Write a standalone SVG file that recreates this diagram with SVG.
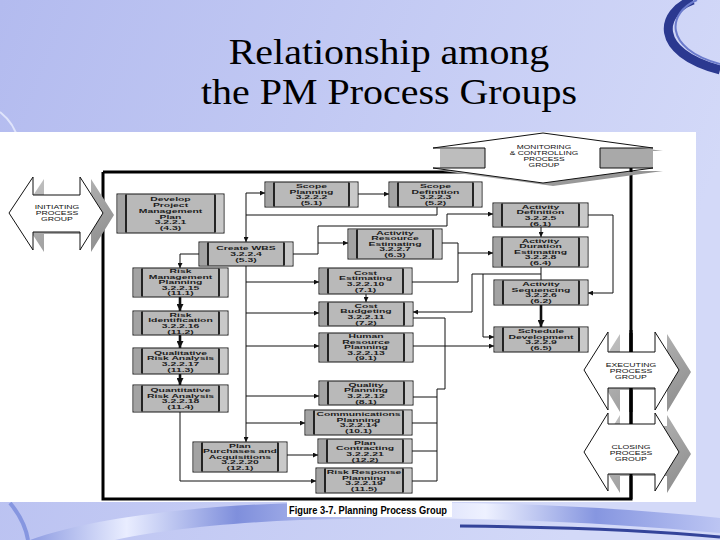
<svg xmlns="http://www.w3.org/2000/svg" width="720" height="540" viewBox="0 0 720 540">
<defs>
<linearGradient id="bg" x1="0" y1="0" x2="1" y2="0.3"><stop offset="0" stop-color="#b3bbef"/><stop offset="1" stop-color="#d3d9f8"/></linearGradient>
<linearGradient id="rib" x1="0" y1="0" x2="1" y2="0"><stop offset="0" stop-color="#8e9ce2"/><stop offset="0.14" stop-color="#e9edff"/><stop offset="0.3" stop-color="#7f8fdc"/><stop offset="0.5" stop-color="#c9d0f6"/><stop offset="0.66" stop-color="#eef1ff"/><stop offset="0.82" stop-color="#8696e0"/><stop offset="1" stop-color="#bcc5f3"/></linearGradient>
<linearGradient id="sh" x1="0" y1="0" x2="1" y2="1"><stop offset="0" stop-color="#c6c6c6"/><stop offset="1" stop-color="#8a8a8a"/></linearGradient>
<marker id="a" viewBox="0 0 6 6" refX="6" refY="3" markerWidth="5" markerHeight="5" orient="auto" markerUnits="userSpaceOnUse"><path d="M0,0L6,3L0,6z" fill="#111"/></marker>
<marker id="ab" viewBox="0 0 6 6" refX="6" refY="3" markerWidth="7" markerHeight="7" orient="auto" markerUnits="userSpaceOnUse"><path d="M0,0L6,3L0,6z" fill="#111"/></marker>
</defs>
<style>
.box{fill:#b9b9b9;stroke:#151515;stroke-width:1}
.bl{fill:#a3a3a3}
.br{fill:#c9c9c9}
.st{stroke:#151515;stroke-width:1.8;fill:none}
.nt{font-family:"Liberation Sans",Arial,Helvetica,sans-serif;font-size:5px;font-weight:700;fill:#1c1c1c;text-anchor:middle}
.pg{font-family:"Liberation Sans",Arial,sans-serif;font-size:5px;fill:#111;text-anchor:middle}
.pgs{fill:url(#sh)}
.pgw{fill:#fff;stroke:#111;stroke-width:1}
.c{fill:none;stroke:#111;stroke-width:1}
.ca{marker-end:url(#a)}
.ct{fill:none;stroke:#111;stroke-width:2.6;marker-end:url(#ab)}
.frame{stroke:#000;stroke-width:3;fill:none}
.title{font-family:"Liberation Serif","Times New Roman",serif;font-size:36px;fill:#000;text-anchor:middle}
</style>

<rect width="720" height="540" fill="url(#bg)"/>
<path d="M693 0C660 12 652 52 720 70" fill="none" stroke="#2b3990" stroke-width="9"/>
<path d="M697 0C668 12 662 48 720 64" fill="none" stroke="#6b7bcc" stroke-width="2"/>
<path d="M0 112C10 120 16 130 18 140" fill="none" stroke="#dfe4fb" stroke-width="2"/>
<path d="M30 540C90 518 200 505 300 503C450 500 600 505 720 518L720 533C600 522 460 515 300 520C220 523 150 532 115 540Z" fill="url(#rib)"/>
<path d="M460 526C560 527 650 530 720 537" fill="none" stroke="#34449a" stroke-width="3"/>
<path d="M10 503C20 515 26 528 28 540" fill="none" stroke="#8696e0" stroke-width="4"/>

<g id="title">
<text class="title" transform="translate(389 0) scale(1.11 1)"><tspan x="0" y="64">Relationship among</tspan><tspan x="0" y="104">the PM Process Groups</tspan></text>
</g>

<rect x="0" y="132" width="696" height="370" fill="#fff"/>

<g id="frame">
<path class="frame" d="M103 172V499M101.5 499H632.5M103 172H480M631 168V499"/>
</g>

<g id="initiating">
<polygon class="pgs" transform="translate(11 2)" points="9,213 33,177 33,195 80,195 80,177 103,213 80,250 80,232 33,232 33,250"/>
<polygon class="pgw" points="9,213 33,177 33,195 80,195 80,177 103,213 80,250 80,232 33,232 33,250"/>
<text class="pg" transform="translate(57 0) scale(1.74 1)"><tspan x="0" y="209">INITIATING</tspan><tspan x="0" y="215">PROCESS</tspan><tspan x="0" y="221">GROUP</tspan></text>
</g>

<g id="monitoring">
<polygon class="pgs" transform="translate(10 3)" points="543,133 653,148 600,148 600,168 653,168 543,183 433,168 485,168 485,148 433,148"/>
<rect x="600" y="149" width="53" height="19" fill="#a9a9a9"/>
<rect x="440" y="149" width="45" height="19" fill="#bdbdbd"/>
<polygon class="pgw" points="543,133 653,148 600,148 600,168 653,168 543,183 433,168 485,168 485,148 433,148"/>
<path d="M631 168V172" stroke="#000" stroke-width="3"/>
<text class="pg" transform="translate(544 0) scale(1.68 1)"><tspan x="0" y="149.5">MONITORING</tspan><tspan x="0" y="155.2">&amp; CONTROLLING</tspan><tspan x="0" y="160.9">PROCESS</tspan><tspan x="0" y="166.6">GROUP</tspan></text>
</g>

<g id="executing">
<polygon class="pgs" transform="translate(12 2)" points="584,370 608,332 608,352 655,352 655,332 679,370 655,410 655,388 608,388 608,410"/>
<path d="M631 330V412" stroke="#000" stroke-width="3"/>
<polygon class="pgw" points="584,370 608,332 608,352 655,352 655,332 679,370 655,410 655,388 608,388 608,410"/>
<path d="M631 333V352M631 388V410" stroke="#000" stroke-width="3"/>
<text class="pg" transform="translate(631 0) scale(1.74 1)"><tspan x="0" y="367">EXECUTING</tspan><tspan x="0" y="373">PROCESS</tspan><tspan x="0" y="379">GROUP</tspan></text>
</g>

<g id="closing">
<polygon class="pgs" transform="translate(12 2)" points="584,452 608,413 608,424 655,424 655,413 679,452 655,491 655,474 608,474 608,491"/>
<polygon class="pgw" points="584,452 608,413 608,424 655,424 655,413 679,452 655,491 655,474 608,474 608,491"/>
<path d="M631 410V424M631 474V499" stroke="#000" stroke-width="3"/>
<text class="pg" transform="translate(631 0) scale(1.74 1)"><tspan x="0" y="449">CLOSING</tspan><tspan x="0" y="455">PROCESS</tspan><tspan x="0" y="461">GROUP</tspan></text>
</g>

<g id="connectors">
<path class="c ca" d="M437 207V215H246V242"/>
<path class="c ca" d="M246 215V193H265"/>
<path class="c ca" d="M358 194H389"/>
<path class="c ca" d="M293 254H318V226H447V214H493"/>
<path class="c ca" d="M318 243H348"/>
<path class="c ca" d="M199 254H180V268"/>
<path class="ct" d="M180 297V311"/>
<path class="ct" d="M180 335V348"/>
<path class="ct" d="M180 374V385"/>
<path class="c ca" d="M246 266V442"/>
<path class="c ca" d="M246 282H319"/>
<path class="c ca" d="M246 313H319"/>
<path class="c ca" d="M246 346H319"/>
<path class="c ca" d="M246 396H319"/>
<path class="c ca" d="M246 423H305"/>
<path class="c ca" d="M287 455H318"/>
<path class="c ca" d="M180 412V481H316"/>
<path class="c ca" d="M366 294V302"/>
<path class="c" d="M442 243H458V282H412"/>
<path class="c ca" d="M458 253H493"/>
<path class="c ca" d="M541 227V237"/>
<path class="c ca" d="M588 215H613V293H588"/>
<path class="c" d="M541 267V280"/>
<path class="c ca" d="M541 274H472V312H413"/>
<path class="c ca" d="M483 274V337H494"/>
<path class="ct" d="M541 305V327"/>
<path class="c ca" d="M413 346H494"/>
<path class="c" d="M413 318H445V389H437V481H412M413 397H437M412 423H437M412 451H437"/>
</g>

<g id="develop-project-management-plan">
<rect class="box" x="117" y="194" width="107" height="39"/>
<rect class="bl" x="117.5" y="194.5" width="8.5" height="38"/>
<rect class="br" x="215" y="194.5" width="8.5" height="38"/>
<path class="st" d="M126 194.5V232.5M215 194.5V232.5"/>
<text class="nt" transform="translate(170.5 0) scale(2.08 1)"><tspan x="0" y="201.2">Develop</tspan><tspan x="0" y="207">Project</tspan><tspan x="0" y="212.8">Management</tspan><tspan x="0" y="218.6">Plan</tspan><tspan x="0" y="224.4">3.2.2.1</tspan><tspan x="0" y="230.2">(4.3)</tspan></text>
</g>

<g id="scope-planning">
<rect class="box" x="265" y="182" width="93" height="25"/>
<rect class="bl" x="265.5" y="182.5" width="8.5" height="24"/>
<rect class="br" x="349" y="182.5" width="8.5" height="24"/>
<path class="st" d="M274 182.5V206.5M349 182.5V206.5"/>
<text class="nt" transform="translate(311.5 0) scale(2.08 1)"><tspan x="0" y="188.3">Scope</tspan><tspan x="0" y="193.9">Planning</tspan><tspan x="0" y="199.5">3.2.2.2</tspan><tspan x="0" y="205.1">(5.1)</tspan></text>
</g>

<g id="scope-definition">
<rect class="box" x="389" y="182" width="93" height="25"/>
<rect class="bl" x="389.5" y="182.5" width="8.5" height="24"/>
<rect class="br" x="473" y="182.5" width="8.5" height="24"/>
<path class="st" d="M398 182.5V206.5M473 182.5V206.5"/>
<text class="nt" transform="translate(435.5 0) scale(2.08 1)"><tspan x="0" y="188.3">Scope</tspan><tspan x="0" y="193.9">Definition</tspan><tspan x="0" y="199.5">3.2.2.3</tspan><tspan x="0" y="205.1">(5.2)</tspan></text>
</g>

<g id="create-wbs">
<rect class="box" x="199" y="242" width="94" height="24"/>
<rect class="bl" x="199.5" y="242.5" width="8.5" height="23"/>
<rect class="br" x="284" y="242.5" width="8.5" height="23"/>
<path class="st" d="M208 242.5V265.5M284 242.5V265.5"/>
<text class="nt" transform="translate(246 0) scale(2.08 1)"><tspan x="0" y="250.4">Create WBS</tspan><tspan x="0" y="256.2">3.2.2.4</tspan><tspan x="0" y="262">(5.3)</tspan></text>
</g>

<g id="activity-resource-estimating">
<rect class="box" x="348" y="229" width="94" height="30"/>
<rect class="bl" x="348.5" y="229.5" width="8.5" height="29"/>
<rect class="br" x="433" y="229.5" width="8.5" height="29"/>
<path class="st" d="M357 229.5V258.5M433 229.5V258.5"/>
<text class="nt" transform="translate(395 0) scale(2.08 1)"><tspan x="0" y="234.6">Activity</tspan><tspan x="0" y="240.2">Resource</tspan><tspan x="0" y="245.8">Estimating</tspan><tspan x="0" y="251.4">3.2.2.7</tspan><tspan x="0" y="257">(6.3)</tspan></text>
</g>

<g id="activity-definition">
<rect class="box" x="493" y="203" width="95" height="24"/>
<rect class="bl" x="493.5" y="203.5" width="8.5" height="23"/>
<rect class="br" x="579" y="203.5" width="8.5" height="23"/>
<path class="st" d="M502 203.5V226.5M579 203.5V226.5"/>
<text class="nt" transform="translate(540.5 0) scale(2.08 1)"><tspan x="0" y="208.8">Activity</tspan><tspan x="0" y="214.4">Definition</tspan><tspan x="0" y="220">3.2.2.5</tspan><tspan x="0" y="225.6">(6.1)</tspan></text>
</g>

<g id="activity-duration-estimating">
<rect class="box" x="493" y="237" width="95" height="30"/>
<rect class="bl" x="493.5" y="237.5" width="8.5" height="29"/>
<rect class="br" x="579" y="237.5" width="8.5" height="29"/>
<path class="st" d="M502 237.5V266.5M579 237.5V266.5"/>
<text class="nt" transform="translate(540.5 0) scale(2.08 1)"><tspan x="0" y="242.6">Activity</tspan><tspan x="0" y="248.2">Duration</tspan><tspan x="0" y="253.8">Estimating</tspan><tspan x="0" y="259.4">3.2.2.8</tspan><tspan x="0" y="265">(6.4)</tspan></text>
</g>

<g id="activity-sequencing">
<rect class="box" x="494" y="280" width="94" height="25"/>
<rect class="bl" x="494.5" y="280.5" width="8.5" height="24"/>
<rect class="br" x="579" y="280.5" width="8.5" height="24"/>
<path class="st" d="M503 280.5V304.5M579 280.5V304.5"/>
<text class="nt" transform="translate(541 0) scale(2.08 1)"><tspan x="0" y="286.3">Activity</tspan><tspan x="0" y="291.9">Sequencing</tspan><tspan x="0" y="297.5">3.2.2.6</tspan><tspan x="0" y="303.1">(6.2)</tspan></text>
</g>

<g id="schedule-development">
<rect class="box" x="494" y="327" width="94" height="25"/>
<rect class="bl" x="494.5" y="327.5" width="8.5" height="24"/>
<rect class="br" x="579" y="327.5" width="8.5" height="24"/>
<path class="st" d="M503 327.5V351.5M579 327.5V351.5"/>
<text class="nt" transform="translate(541 0) scale(2.08 1)"><tspan x="0" y="333.3">Schedule</tspan><tspan x="0" y="338.9">Development</tspan><tspan x="0" y="344.5">3.2.2.9</tspan><tspan x="0" y="350.1">(6.5)</tspan></text>
</g>

<g id="risk-management-planning">
<rect class="box" x="133" y="268" width="95" height="29"/>
<rect class="bl" x="133.5" y="268.5" width="8.5" height="28"/>
<rect class="br" x="219" y="268.5" width="8.5" height="28"/>
<path class="st" d="M142 268.5V296.5M219 268.5V296.5"/>
<text class="nt" transform="translate(180.5 0) scale(2.08 1)"><tspan x="0" y="273.1">Risk</tspan><tspan x="0" y="278.7">Management</tspan><tspan x="0" y="284.3">Planning</tspan><tspan x="0" y="289.9">3.2.2.15</tspan><tspan x="0" y="295.5">(11.1)</tspan></text>
</g>

<g id="risk-identification">
<rect class="box" x="133" y="311" width="95" height="24"/>
<rect class="bl" x="133.5" y="311.5" width="8.5" height="23"/>
<rect class="br" x="219" y="311.5" width="8.5" height="23"/>
<path class="st" d="M142 311.5V334.5M219 311.5V334.5"/>
<text class="nt" transform="translate(180.5 0) scale(2.08 1)"><tspan x="0" y="316.8">Risk</tspan><tspan x="0" y="322.4">Identification</tspan><tspan x="0" y="328">3.2.2.16</tspan><tspan x="0" y="333.6">(11.2)</tspan></text>
</g>

<g id="qualitative-risk-analysis">
<rect class="box" x="133" y="348" width="95" height="26"/>
<rect class="bl" x="133.5" y="348.5" width="8.5" height="25"/>
<rect class="br" x="219" y="348.5" width="8.5" height="25"/>
<path class="st" d="M142 348.5V373.5M219 348.5V373.5"/>
<text class="nt" transform="translate(180.5 0) scale(2.08 1)"><tspan x="0" y="354.8">Qualitative</tspan><tspan x="0" y="360.4">Risk Analysis</tspan><tspan x="0" y="366">3.2.2.17</tspan><tspan x="0" y="371.6">(11.3)</tspan></text>
</g>

<g id="quantitative-risk-analysis">
<rect class="box" x="133" y="385" width="95" height="27"/>
<rect class="bl" x="133.5" y="385.5" width="8.5" height="26"/>
<rect class="br" x="219" y="385.5" width="8.5" height="26"/>
<path class="st" d="M142 385.5V411.5M219 385.5V411.5"/>
<text class="nt" transform="translate(180.5 0) scale(2.08 1)"><tspan x="0" y="392.3">Quantitative</tspan><tspan x="0" y="397.9">Risk Analysis</tspan><tspan x="0" y="403.5">3.2.2.18</tspan><tspan x="0" y="409.1">(11.4)</tspan></text>
</g>

<g id="cost-estimating">
<rect class="box" x="319" y="268" width="93" height="26"/>
<rect class="bl" x="319.5" y="268.5" width="8.5" height="25"/>
<rect class="br" x="403" y="268.5" width="8.5" height="25"/>
<path class="st" d="M328 268.5V293.5M403 268.5V293.5"/>
<text class="nt" transform="translate(365.5 0) scale(2.08 1)"><tspan x="0" y="274.8">Cost</tspan><tspan x="0" y="280.4">Estimating</tspan><tspan x="0" y="286">3.2.2.10</tspan><tspan x="0" y="291.6">(7.1)</tspan></text>
</g>

<g id="cost-budgeting">
<rect class="box" x="319" y="302" width="94" height="24"/>
<rect class="bl" x="319.5" y="302.5" width="8.5" height="23"/>
<rect class="br" x="404" y="302.5" width="8.5" height="23"/>
<path class="st" d="M328 302.5V325.5M404 302.5V325.5"/>
<text class="nt" transform="translate(366 0) scale(2.08 1)"><tspan x="0" y="307.8">Cost</tspan><tspan x="0" y="313.4">Budgeting</tspan><tspan x="0" y="319">3.2.2.11</tspan><tspan x="0" y="324.6">(7.2)</tspan></text>
</g>

<g id="human-resource-planning">
<rect class="box" x="319" y="333" width="94" height="29"/>
<rect class="bl" x="319.5" y="333.5" width="8.5" height="28"/>
<rect class="br" x="404" y="333.5" width="8.5" height="28"/>
<path class="st" d="M328 333.5V361.5M404 333.5V361.5"/>
<text class="nt" transform="translate(366 0) scale(2.08 1)"><tspan x="0" y="338.1">Human</tspan><tspan x="0" y="343.7">Resource</tspan><tspan x="0" y="349.3">Planning</tspan><tspan x="0" y="354.9">3.2.2.13</tspan><tspan x="0" y="360.5">(9.1)</tspan></text>
</g>

<g id="quality-planning">
<rect class="box" x="319" y="381" width="94" height="24"/>
<rect class="bl" x="319.5" y="381.5" width="8.5" height="23"/>
<rect class="br" x="404" y="381.5" width="8.5" height="23"/>
<path class="st" d="M328 381.5V404.5M404 381.5V404.5"/>
<text class="nt" transform="translate(366 0) scale(2.08 1)"><tspan x="0" y="386.8">Quality</tspan><tspan x="0" y="392.4">Planning</tspan><tspan x="0" y="398">3.2.2.12</tspan><tspan x="0" y="403.6">(8.1)</tspan></text>
</g>

<g id="communications-planning">
<rect class="box" x="305" y="410" width="107" height="25"/>
<rect class="bl" x="305.5" y="410.5" width="8.5" height="24"/>
<rect class="br" x="403" y="410.5" width="8.5" height="24"/>
<path class="st" d="M314 410.5V434.5M403 410.5V434.5"/>
<text class="nt" transform="translate(358.5 0) scale(2.08 1)"><tspan x="0" y="416.3">Communications</tspan><tspan x="0" y="421.9">Planning</tspan><tspan x="0" y="427.5">3.2.2.14</tspan><tspan x="0" y="433.1">(10.1)</tspan></text>
</g>

<g id="plan-contracting">
<rect class="box" x="318" y="439" width="94" height="24"/>
<rect class="bl" x="318.5" y="439.5" width="8.5" height="23"/>
<rect class="br" x="403" y="439.5" width="8.5" height="23"/>
<path class="st" d="M327 439.5V462.5M403 439.5V462.5"/>
<text class="nt" transform="translate(365 0) scale(2.08 1)"><tspan x="0" y="444.8">Plan</tspan><tspan x="0" y="450.4">Contracting</tspan><tspan x="0" y="456">3.2.2.21</tspan><tspan x="0" y="461.6">(12.2)</tspan></text>
</g>

<g id="risk-response-planning">
<rect class="box" x="316" y="468" width="96" height="25"/>
<rect class="bl" x="316.5" y="468.5" width="8.5" height="24"/>
<rect class="br" x="403" y="468.5" width="8.5" height="24"/>
<path class="st" d="M325 468.5V492.5M403 468.5V492.5"/>
<text class="nt" transform="translate(364 0) scale(2.08 1)"><tspan x="0" y="474.3">Risk Response</tspan><tspan x="0" y="479.9">Planning</tspan><tspan x="0" y="485.5">3.2.2.19</tspan><tspan x="0" y="491.1">(11.5)</tspan></text>
</g>

<g id="plan-purchases-and-acquisitions">
<rect class="box" x="193" y="442" width="94" height="30"/>
<rect class="bl" x="193.5" y="442.5" width="8.5" height="29"/>
<rect class="br" x="278" y="442.5" width="8.5" height="29"/>
<path class="st" d="M202 442.5V471.5M278 442.5V471.5"/>
<text class="nt" transform="translate(240 0) scale(2.08 1)"><tspan x="0" y="447.6">Plan</tspan><tspan x="0" y="453.2">Purchases and</tspan><tspan x="0" y="458.8">Acquisitions</tspan><tspan x="0" y="464.4">3.2.2.20</tspan><tspan x="0" y="470">(12.1)</tspan></text>
</g>

<g id="caption">
<rect x="287" y="502" width="165" height="15" fill="#fff"/>
<text x="289" y="513.5" font-family="'Liberation Sans',Arial,sans-serif" font-weight="bold" font-size="10" textLength="158" lengthAdjust="spacingAndGlyphs" fill="#000">Figure 3-7. Planning Process Group</text>
</g>
</svg>
